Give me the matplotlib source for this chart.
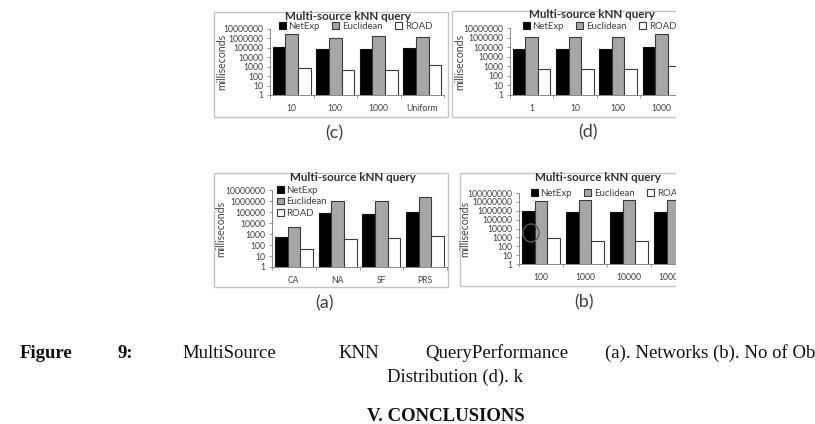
import matplotlib
matplotlib.use("Agg")
import matplotlib.pyplot as plt
from matplotlib.patches import Rectangle, Ellipse
import numpy as np

plt.rcParams['font.family'] = ['Lato', 'DejaVu Sans']

W, H = 815, 424

# values (milliseconds, log scale)
series_names = ["NetExp", "Euclidean", "ROAD"]

cats_a = ["CA", "NA", "SF", "PRS"]
netexp_a = [550, 80000, 65000, 100000]
eucl_a = [4000, 1000000, 1000000, 2300000]
road_a = [40, 350, 400, 650]

cats_b = ["100", "1000", "10000", "100000"]
netexp_b = [1000000, 700000, 700000, 800000]
eucl_b = [12000000, 16000000, 18000000, 18000000]
road_b = [800, 400, 400, 400]

cats_c = ["10", "100", "1000", "Uniform"]
netexp_c = [120000, 75000, 75000, 100000]
eucl_c = [3000000, 1100000, 1800000, 1300000]
road_c = [700, 500, 500, 1500]

cats_d = ["1", "10", "100", "1000"]
netexp_d = [65000, 65000, 65000, 100000]
eucl_d = [1100000, 1100000, 1100000, 2300000]
road_d = [500, 500, 500, 1000]

bar_colors = ["#000000", "#a6a6a6", "#ffffff"]
edge_colors = ["#111111", "#3a3a3a", "#3a3a3a"]


def rect(x0, y0, x1, y1):
    # pixel box (top-left origin) -> figure fraction
    return [x0 / W, 1 - y1 / H, (x1 - x0) / W, (y1 - y0) / H]


def draw_panel(fig, box, ax_box, cats, values, top_exp, title_x, legend_pos, vertical,
               ylabel_x, tag, tag_pos):
    # light frame around the pasted chart
    fig.add_artist(Rectangle((box[0] / W, 1 - box[3] / H), (box[2] - box[0]) / W,
                             (box[3] - box[1]) / H, transform=fig.transFigure,
                             fill=False, edgecolor="#c4c4c4", linewidth=1.0))

    ax = fig.add_axes(rect(*ax_box))
    x = np.arange(len(cats))
    w = 0.29
    for i, vals in enumerate(values):
        ax.bar(x + (i - 1) * w, vals, width=w, color=bar_colors[i],
               edgecolor=edge_colors[i], linewidth=0.8, label=series_names[i])
    ax.set_yscale("log")
    ax.set_ylim(1, 10 ** top_exp)
    ax.set_xlim(-0.5, len(cats) - 0.5)
    ticks = [10 ** k for k in range(top_exp + 1)]
    ax.set_yticks(ticks)
    ax.set_yticklabels([str(t) for t in ticks])
    ax.yaxis.set_minor_locator(matplotlib.ticker.NullLocator())
    ax.set_xticks(x)
    ax.set_xticklabels(cats)
    ax.set_xticks(np.arange(len(cats) + 1) - 0.5, minor=True)
    ax.tick_params(axis="y", length=2.5, pad=2.2, labelsize=6.2, colors="#888888",
                   labelcolor="#404040", width=0.6)
    ax.tick_params(axis="x", which="major", length=0, pad=6.5, labelsize=6.2, labelcolor="#404040")
    ax.tick_params(axis="x", which="minor", length=2, width=0.6, colors="#888888")
    for s in ["top", "right"]:
        ax.spines[s].set_visible(False)
    for s in ["left", "bottom"]:
        ax.spines[s].set_color("#888888")
        ax.spines[s].set_linewidth(0.7)
    ax.patch.set_alpha(0)

    fig.text(title_x / W, 1 - (box[1] + 4) / H, "Multi-source kNN query", ha="center",
             va="center", fontsize=8.4, fontweight="bold", color="#303030")

    ymid = (ax_box[1] + ax_box[3]) / 2
    fig.text(ylabel_x / W, 1 - ymid / H, "milliseconds", rotation=90, ha="center",
             va="center", fontsize=7.6, color="#404040")

    if vertical:
        leg = ax.legend(loc="upper left", bbox_to_anchor=(legend_pos[0] / W, 1 - legend_pos[1] / H),
                        bbox_transform=fig.transFigure, ncol=1, frameon=False, fontsize=6.9,
                        handlelength=0.7, handleheight=0.7, handletextpad=0.3,
                        labelspacing=0.25, borderpad=0, borderaxespad=0)
    else:
        leg = ax.legend(loc="center left", bbox_to_anchor=(legend_pos[0] / W, 1 - legend_pos[1] / H),
                        bbox_transform=fig.transFigure, ncol=3, frameon=False, fontsize=6.9,
                        handlelength=0.7, handleheight=0.7, handletextpad=0.3,
                        columnspacing=1.3, borderpad=0, borderaxespad=0)
    for t in leg.get_texts():
        t.set_color("#404040")

    fig.text(tag_pos[0] / W, 1 - tag_pos[1] / H, tag, ha="center", va="center",
             fontsize=13, color="#404040")
    return ax


fig = plt.figure(figsize=(W / 100, H / 100), dpi=100)

draw_panel(fig, (214, 12, 448, 117), (270, 29, 444, 95), cats_c,
           [netexp_c, eucl_c, road_c], 7, 348, (279, 26.5), False, 222, "(c)", (334, 133))
draw_panel(fig, (452, 11, 700, 117), (510, 28, 683, 95), cats_d,
           [netexp_d, eucl_d, road_d], 7, 592, (523, 26.5), False, 460, "(d)", (588, 132))
draw_panel(fig, (214, 173, 448, 287), (272, 190, 447, 267), cats_a,
           [netexp_a, eucl_a, road_a], 7, 353, (277, 186), True, 221, "(a)", (325, 303))
draw_panel(fig, (460, 173, 700, 286), (519, 193, 695, 264), cats_b,
           [netexp_b, eucl_b, road_b], 8, 598, (531, 193), False, 465, "(b)", (584, 302))

# pen mark over the first NetExp bar of (b)
fig.add_artist(Ellipse((531 / W, 1 - 233 / H), 16 / W, 18 / H, transform=fig.transFigure,
                       fill=False, edgecolor="#5a5a5a", linewidth=1.0, zorder=5))

# the screenshot cuts the right-hand panels off
fig.add_artist(Rectangle((676 / W, 1 - 300 / H), (W - 676) / W, 300 / H,
                         transform=fig.transFigure, facecolor="white", edgecolor="none", zorder=10))

# caption, justified like the paper
serif = ["Liberation Serif", "DejaVu Serif"]
cap_y = 1 - 358 / H
words = [("Figure", 20, "bold"), ("9:", 117, "bold"), ("MultiSource", 182, "normal"),
         ("KNN", 338, "normal"), ("QueryPerformance", 425, "normal"),
         ("(a). Networks (b). No of Ob", 605, "normal")]
for txt, px, fw in words:
    fig.text(px / W, cap_y, txt, ha="left", va="baseline", fontsize=13.5,
             fontweight=fw, family=serif, color="#111111")
fig.text(387 / W, 1 - 382 / H, "Distribution (d). k", ha="left", va="baseline",
         fontsize=13.5, family=serif, color="#111111")
fig.text(367 / W, 1 - 421 / H, "V. CONCLUSIONS", ha="left", va="baseline",
         fontsize=13.5, fontweight="bold", family=serif, color="#111111")

fig.savefig("out.png", dpi=100)
